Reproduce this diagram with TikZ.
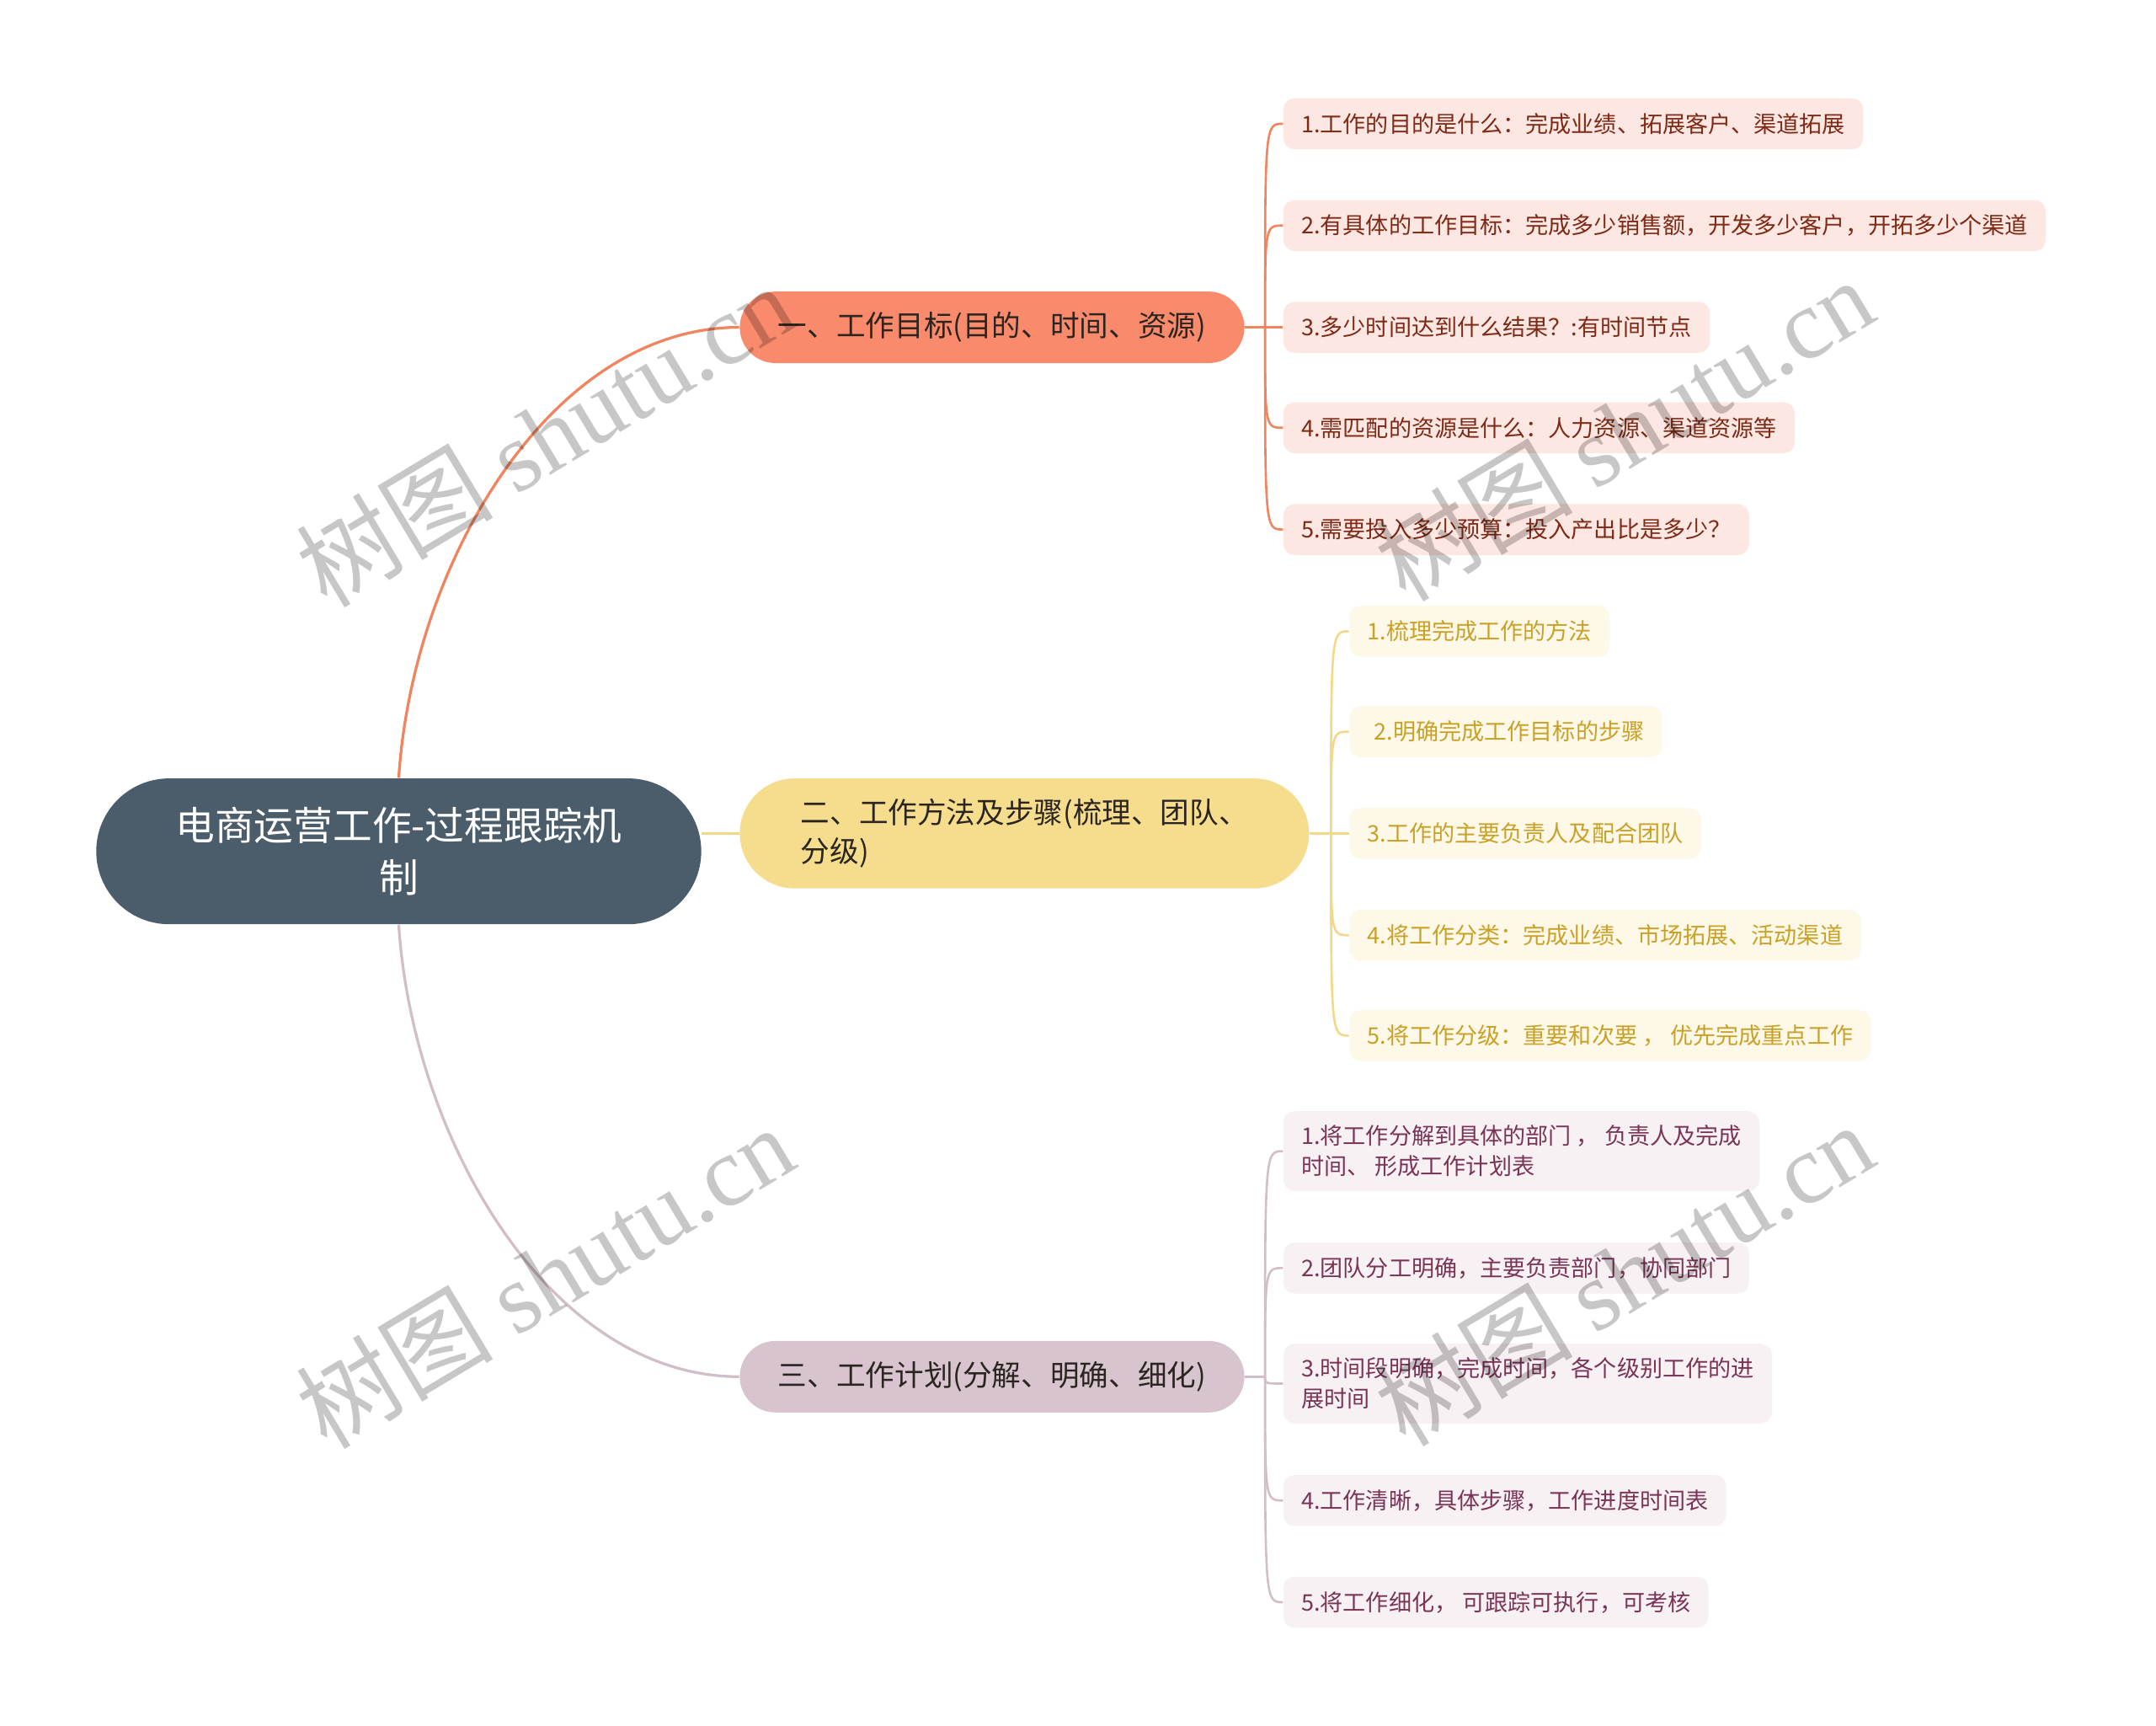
\documentclass[tikz,border=0pt]{standalone}
\usepackage{fontspec}
\setmainfont{Noto Sans CJK SC}
\newfontfamily\cjkfont{Noto Sans CJK SC}
\newfontfamily\wmserif{Liberation Serif}
\definecolor{rootc}{HTML}{4B5C6B}
\definecolor{bonec}{HTML}{FA8A6C}
\definecolor{btwoc}{HTML}{F6DD8E}
\definecolor{bthreec}{HTML}{D8C4CE}
\definecolor{lonec}{HTML}{F0845F}
\definecolor{ltwoc}{HTML}{F3D88A}
\definecolor{lthreec}{HTML}{D2BEC8}
\definecolor{leafonefill}{HTML}{FDE7E2}
\definecolor{leaftwofill}{HTML}{FEF8E8}
\definecolor{leafthreefill}{HTML}{F7F1F4}
\definecolor{leafonetext}{HTML}{7E2A16}
\definecolor{leaftwotext}{HTML}{C9A126}
\definecolor{leafthreetext}{HTML}{7A3556}
\definecolor{branchtext}{HTML}{2A2520}
\tikzset{
  rootbox/.style={fill=rootc, text=white, rounded corners=26.5pt, minimum width=220pt,
    minimum height=53pt, align=center, inner sep=0pt,
    font=\fontsize{14.3pt}{19pt}\selectfont},
  branchbox/.style={rounded corners=13pt, minimum height=26pt, inner sep=0pt,
    text=branchtext, font=\fontsize{10.6pt}{14pt}\selectfont},
  leafbox/.style={anchor=west, rounded corners=4pt, minimum height=18.5pt, inner xsep=6.5pt,
    inner ysep=0pt, align=left, font=\fontsize{8.3pt}{11pt}\selectfont},
  leafone/.style={leafbox, fill=leafonefill, text=leafonetext},
  leaftwo/.style={leafbox, fill=leaftwofill, text=leaftwotext},
  leafthree/.style={leafbox, fill=leafthreefill, text=leafthreetext},
  mainlink/.style={line width=1pt},
  sublink/.style={line width=0.8pt},
  wm/.style={rotate=31, text=black, opacity=0.22, inner sep=0pt}
}
\begin{document}
\begin{tikzpicture}[x=0.5pt, y=-0.5pt]
\useasboundingbox (0,0) rectangle (1568,1255);
\fill[white] (0,0) rectangle (1568,1255);

% root and branches
\node[rootbox] (root) at (290,619) {电商运营工作-过程跟踪机\\制};
\node[branchbox, fill=bonec, minimum width=183.5pt] (b1) at (721.5,238) {一、工作目标(目的、时间、资源)};
\node[branchbox, fill=btwoc, minimum width=207pt, minimum height=40pt, rounded corners=20pt, align=left] (b2) at (745,606) {二、工作方法及步骤(梳理、团队、\\分级)};
\node[branchbox, fill=bthreec, minimum width=183.5pt] (b3) at (721.5,1001) {三、工作计划(分解、明确、细化)};

% leaves of branch 1
\node[leafone] (a1) at (933,90) {1.工作的目的是什么：完成业绩、拓展客户、渠道拓展};
\node[leafone] (a2) at (933,164) {2.有具体的工作目标：完成多少销售额，开发多少客户，开拓多少个渠道};
\node[leafone] (a3) at (933,238) {3.多少时间达到什么结果？:有时间节点};
\node[leafone] (a4) at (933,311) {4.需匹配的资源是什么：人力资源、渠道资源等};
\node[leafone] (a5) at (933,385) {5.需要投入多少预算：投入产出比是多少？};

% leaves of branch 2
\node[leaftwo] (c1) at (981,459) {1.梳理完成工作的方法};
\node[leaftwo] (c2) at (981,532) {\hspace{2.5pt}2.明确完成工作目标的步骤};
\node[leaftwo] (c3) at (981,606) {3.工作的主要负责人及配合团队};
\node[leaftwo] (c4) at (981,680) {4.将工作分类：完成业绩、市场拓展、活动渠道};
\node[leaftwo] (c5) at (981,753) {5.将工作分级：重要和次要 ， 优先完成重点工作};

% leaves of branch 3
\node[leafthree, minimum height=29pt] (d1) at (933,837) {1.将工作分解到具体的部门 ， 负责人及完成\\时间、 形成工作计划表};
\node[leafthree] (d2) at (933,922) {2.团队分工明确，主要负责部门，协同部门};
\node[leafthree, minimum height=29pt] (d3) at (933,1006) {3.时间段明确，完成时间，各个级别工作的进\\展时间};
\node[leafthree] (d4) at (933,1091) {4.工作清晰，具体步骤，工作进度时间表};
\node[leafthree] (d5) at (933,1165) {5.将工作细化， 可跟踪可执行，可考核};

% junctions
\coordinate (j1) at (920,238);
\coordinate (j2) at (968,606);
\coordinate (j3) at (920,1001);

% root connectors
\draw[mainlink, lonec] (root.north) .. controls (300,410) and (400,238) .. (b1.west);
\draw[mainlink, ltwoc] (root.east |- b2.west) -- (b2.west);
\draw[mainlink, lthreec] (root.south) .. controls (300,828) and (400,1001) .. (b3.west);

% branch 1 connectors
\draw[sublink, lonec] (b1.east) -- (j1);
\foreach \n in {a1,a2,a3,a4,a5}
  \draw[sublink, lonec] (j1) .. controls (j1 |- \n.west) .. (\n.west);
% branch 2 connectors
\draw[sublink, ltwoc] (b2.east) -- (j2);
\foreach \n in {c1,c2,c3,c4,c5}
  \draw[sublink, ltwoc] (j2) .. controls (j2 |- \n.west) .. (\n.west);
% branch 3 connectors
\draw[sublink, lthreec] (b3.east) -- (j3);
\foreach \n in {d1,d2,d3,d4,d5}
  \draw[sublink, lthreec] (j3) .. controls (j3 |- \n.west) .. (\n.west);

% watermarks
\node[wm] (w1) at (396,316) {\fontsize{36pt}{36pt}\selectfont{\cjkfont 树图} {\wmserif shutu.cn}};
\node[wm] (w2) at (1181,312) {\fontsize{36pt}{36pt}\selectfont{\cjkfont 树图} {\wmserif shutu.cn}};
\node[wm] (w3) at (396,928) {\fontsize{36pt}{36pt}\selectfont{\cjkfont 树图} {\wmserif shutu.cn}};
\node[wm] (w4) at (1181,926) {\fontsize{36pt}{36pt}\selectfont{\cjkfont 树图} {\wmserif shutu.cn}};
\end{tikzpicture}
\end{document}
